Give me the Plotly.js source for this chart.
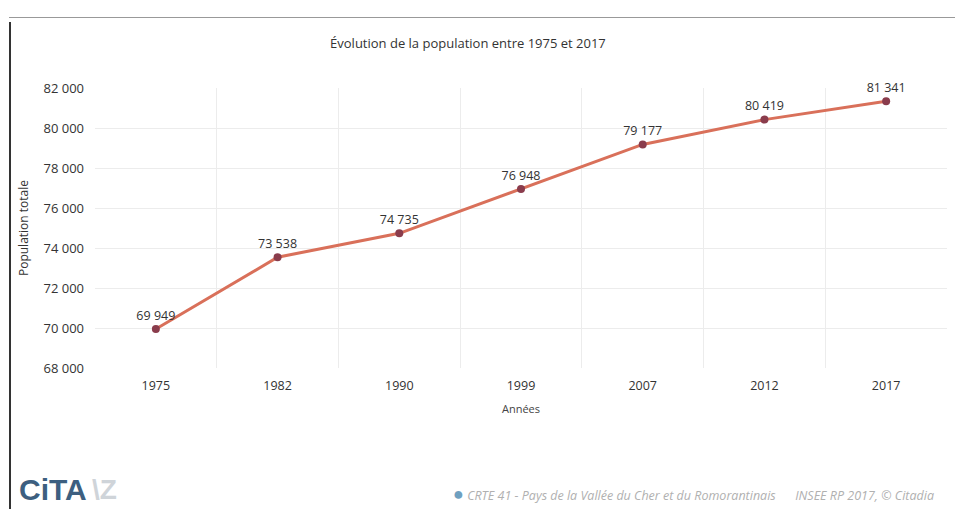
<!DOCTYPE html>
<html><head><meta charset="utf-8">
<script src="https://cdn.plot.ly/plotly-3.0.1.min.js"></script>
<style>
html,body{margin:0;padding:0;background:#fff;overflow:hidden;}
#chart{width:955px;height:509px;}
#frameL{position:absolute;left:9px;top:22px;width:2px;height:487px;background:#333;}
#frameT{position:absolute;left:9px;top:17px;width:946px;height:1px;background:#999;}
</style></head>
<body>
<div id="chart"></div>
<div id="frameL"></div><div id="frameT"></div>
<script>
const years = ['1975','1982','1990','1999','2007','2012','2017'];
const population = [69949, 73538, 74735, 76948, 79177, 80419, 81341];
const yTicks = [68000, 70000, 72000, 74000, 76000, 78000, 80000, 82000];
const yTickLabels = ['68 000','70 000','72 000','74 000','76 000','78 000','80 000','82 000'];
const labels = population.map(v => v.toLocaleString('fr-FR').replace(/\u202f|\u00a0/g,' '));

const trace = {
  x: years, y: population, type: 'scatter', mode: 'lines+markers+text',
  line: {color: '#d9705a', width: 3},
  marker: {color: '#8a3c4c', size: 8},
  text: labels, textposition: 'top center',
  textfont: {family: 'Open Sans, sans-serif', size: 12.5, color: '#333'},
  cliponaxis: false, hoverinfo: 'skip'
};
const layout = {
  width: 955, height: 509,
  margin: {l: 95, r: 8, t: 88, b: 141},
  paper_bgcolor: '#fff', plot_bgcolor: '#fff',
  font: {family: 'Open Sans, sans-serif', size: 12, color: '#333'},
  showlegend: false,
  title: {text: 'Évolution de la population entre 1975 et 2017', x: 0.49, xanchor: 'center', y: 0.915, yanchor: 'middle',
          font: {size: 13, color: '#333'}},
  xaxis: {type: 'category', range: [-0.5, 6.5], tickson: 'boundaries', showgrid: true, gridcolor: '#ececec', ticks: '',
          showline: false, zeroline: false, tickfont: {size: 12.5, color: '#333'}, ticklabelstandoff: 8,
          title: {text: 'Années', font: {size: 11, color: '#444'}, standoff: 12}},
  yaxis: {range: [68000, 82000], tickvals: yTicks, ticktext: yTickLabels, showgrid: true, gridcolor: '#ececec',
          zeroline: false, showline: false, ticks: '', ticklen: 0, tickfont: {size: 13, color: '#333'},
          ticklabelstandoff: 10, automargin: false,
          title: {text: 'Population totale', font: {size: 12, color: '#333'}, standoff: 12}},
  annotations: [
    {xref: 'paper', yref: 'paper', x: -0.092, y: -0.435, xanchor: 'left', yanchor: 'middle', showarrow: false,
     text: '<b>CiTA</b>', font: {family: 'Liberation Sans, Arial, sans-serif', size: 30, color: '#3d5f80'}},
    {xref: 'paper', yref: 'paper', x: -0.006, y: -0.435, xanchor: 'left', yanchor: 'middle', showarrow: false,
     text: '<b>\\Z</b>', font: {family: 'Liberation Sans, Arial, sans-serif', size: 28, color: '#cfd4d9'}},
    {xref: 'paper', yref: 'paper', x: 0.418, y: -0.448, xanchor: 'left', yanchor: 'middle', showarrow: false,
     text: '<span style="color:#6fa0c0;font-size:18px">●</span> <i>CRTE 41 - Pays de la Vallée du Cher et du Romorantinais      INSEE RP 2017, © Citadia</i>',
     font: {family: 'Open Sans, sans-serif', size: 12.5, color: '#b0b0b0'}}
  ]
};
Plotly.newPlot('chart', [trace], layout, {displayModeBar: false, staticPlot: true});
</script>
</body></html>
